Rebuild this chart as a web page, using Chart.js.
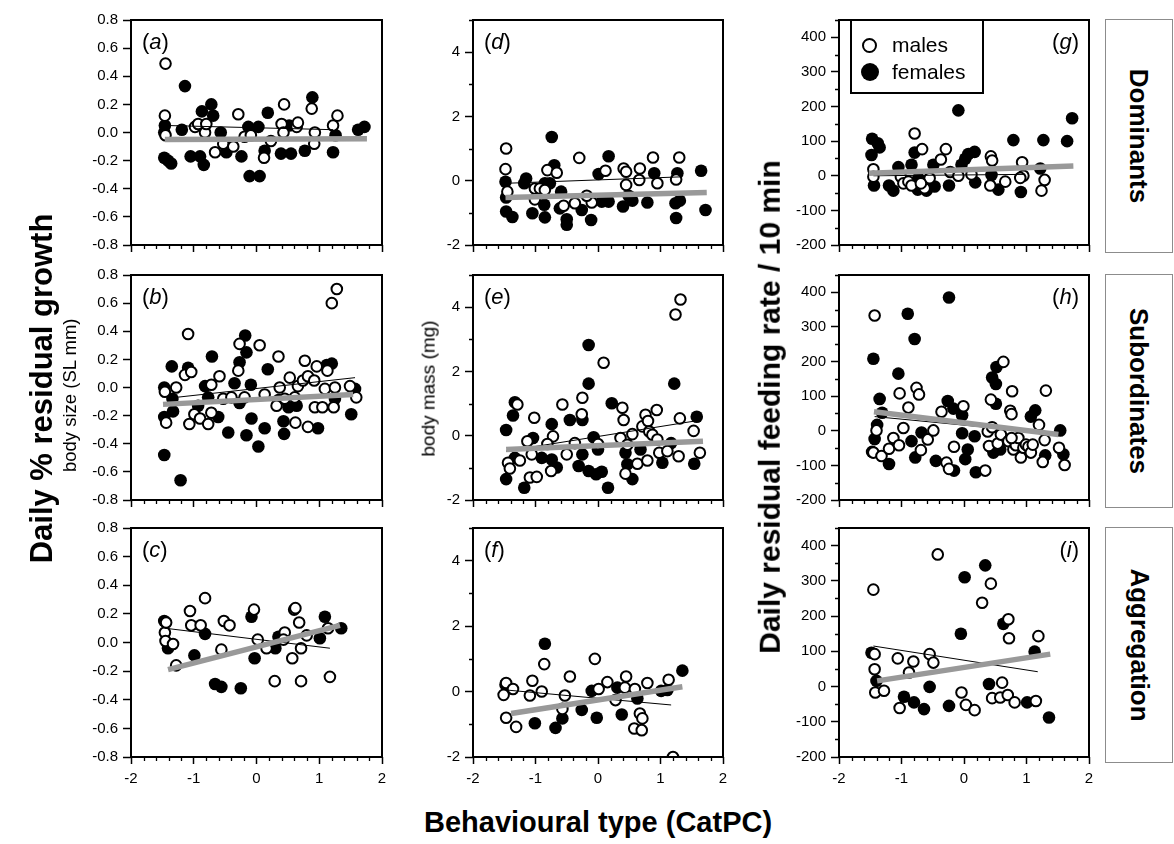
<!DOCTYPE html>
<html><head><meta charset="utf-8">
<script src="https://cdn.jsdelivr.net/npm/chart.js@4.4.1/dist/chart.umd.min.js"></script>
<style>
html,body{margin:0;padding:0;background:#fff;}
body{width:1174px;height:844px;position:relative;overflow:hidden;font-family:"Liberation Sans",Arial,sans-serif;color:#000;}
canvas{position:absolute;}
.t{position:absolute;white-space:nowrap;line-height:1;}
.strip{position:absolute;border:1.5px solid #8c8c8c;box-sizing:border-box;}
.legend{position:absolute;border:2px solid #000;box-sizing:border-box;background:#fff;}
.dot{position:absolute;border-radius:50%;box-sizing:border-box;}
</style></head><body>
<script>
// ---------- data ----------
const xTicks = [-2,-1,0,1,2];
const growthTicks = [-0.8,-0.6,-0.4,-0.2,0,0.2,0.4,0.6,0.8];
const massTicks = [-2,0,2,4];
const feedTicks = [-200,-100,0,100,200,300,400];
const panelLetters = ['a','b','c','d','e','f','g','h','i'];
const groupNames = ['Dominants','Subordinates','Aggregation'];
const seriesNames = ['males','females'];

// (a) Dominants, body size
const aMales = [[-1.45,0.49],[-1.46,0.12],[-1.45,-0.02],[-0.98,0.04],[-0.93,0.06],[-0.82,0.0],[-0.80,0.06],[-0.66,-0.14],[-0.53,-0.08],[-0.37,-0.10],[-0.29,0.13],[-0.19,-0.03],[-0.09,-0.02],[0.12,-0.18],[0.23,-0.06],[0.40,0.06],[0.44,0.20],[0.43,0.0],[0.64,0.04],[0.66,0.07],[0.88,0.17],[0.93,0.0],[0.92,-0.08],[1.22,0.05],[1.29,0.12]];
const aFemales = [[-1.46,0.05],[-1.47,0.0],[-1.47,-0.18],[-1.41,-0.20],[-1.36,-0.22],[-1.14,0.33],[-1.19,0.02],[-1.05,-0.17],[-0.90,-0.17],[-0.84,-0.23],[-0.87,0.15],[-0.72,0.20],[-0.69,0.12],[-0.57,0.0],[-0.48,-0.14],[-0.24,-0.17],[-0.13,0.04],[-0.11,-0.31],[0.05,-0.31],[0.03,0.04],[0.18,0.14],[0.13,-0.13],[0.39,-0.15],[0.55,-0.15],[0.52,0.05],[0.77,-0.13],[0.89,0.25],[1.22,-0.14],[1.26,-0.02],[1.62,0.02],[1.72,0.04]];
const aThinFit = [[-1.45,0.05],[1.22,0.02]];
const aGreyFit = [[-1.46,-0.05],[1.76,-0.045]];

// (b) Subordinates, body size
const bMales = [[1.28,0.70],[1.20,0.60],[-1.09,0.38],[-0.27,0.31],[-0.29,0.12],[0.05,0.30],[0.35,0.22],[0.77,0.19],[0.96,0.15],[1.13,0.12],[-1.46,-0.03],[-1.28,0.0],[-1.14,0.09],[-1.04,0.11],[-1.44,-0.25],[-1.07,-0.26],[-0.99,-0.19],[-0.90,-0.22],[-0.77,-0.26],[-0.72,-0.18],[-0.72,0.02],[-0.59,0.08],[-0.53,-0.08],[-0.40,-0.07],[-0.19,-0.07],[0.32,-0.13],[0.37,0.0],[0.53,0.07],[0.61,-0.07],[0.62,-0.25],[0.66,0.01],[0.74,0.05],[0.82,0.08],[0.92,0.05],[0.82,-0.28],[0.93,-0.14],[1.05,-0.14],[1.09,-0.01],[1.23,-0.14],[1.25,0.0],[1.49,0.01],[1.59,-0.07],[0.13,-0.05],[0.45,-0.08]];
const bFemales = [[-1.35,0.15],[-1.47,0.0],[-1.47,-0.21],[-1.33,-0.17],[-1.47,-0.48],[-1.21,-0.66],[-1.34,-0.08],[-1.09,0.14],[-0.93,-0.13],[-0.82,0.01],[-0.77,-0.07],[-0.71,0.22],[-0.61,-0.21],[-0.45,-0.32],[-0.35,0.03],[-0.27,0.18],[-0.18,0.37],[-0.16,0.25],[-0.27,-0.11],[-0.16,-0.34],[-0.08,-0.22],[-0.09,0.02],[0.03,-0.42],[0.13,-0.29],[0.18,0.13],[0.43,-0.24],[0.44,-0.33],[0.51,-0.14],[0.64,-0.13],[0.98,-0.29],[1.12,0.16],[1.20,0.17],[1.25,-0.08],[1.51,-0.19],[1.57,-0.01],[0.35,-0.09]];
const bThinFit = [[-1.28,-0.07],[1.57,0.07]];
const bGreyFit = [[-1.49,-0.12],[1.54,-0.05]];

// (c) Aggregation, body size
const cMales = [[-1.46,0.07],[-1.44,0.14],[-1.45,0.01],[-1.33,-0.01],[-1.28,-0.16],[-1.06,0.22],[-1.04,0.12],[-0.89,0.12],[-0.82,0.31],[-0.56,-0.05],[-0.52,0.15],[-0.43,0.12],[-0.04,0.23],[0.02,0.02],[0.16,-0.04],[0.29,-0.27],[0.45,0.07],[0.57,-0.11],[0.60,0.23],[0.62,0.24],[0.68,0.14],[0.71,-0.04],[0.71,-0.27],[0.80,0.05],[1.14,0.10],[1.17,-0.24],[0.43,0.02]];
const cFemales = [[-1.47,0.15],[-1.41,-0.04],[-0.82,0.06],[-0.99,-0.09],[-0.66,-0.29],[-0.56,-0.31],[-0.25,-0.32],[-0.08,0.18],[-0.03,-0.11],[0.30,-0.04],[0.35,0.04],[1.01,0.03],[1.09,0.18],[1.35,0.10]];
const cThinFit = [[-1.46,0.10],[1.17,-0.04]];
const cGreyFit = [[-1.41,-0.19],[1.33,0.12]];

// (d) Dominants, body mass
const dMales = [[-1.47,1.0],[-1.48,0.36],[-1.45,-0.34],[-1.01,-0.24],[-0.93,-0.24],[-0.85,-0.29],[-0.81,0.33],[-0.66,0.25],[-1.01,-0.58],[-0.55,-0.78],[-0.37,-0.70],[-0.30,0.71],[-0.10,-0.68],[0.12,0.31],[0.41,0.38],[0.45,0.28],[0.45,-0.13],[0.66,0.02],[0.67,0.38],[0.88,0.72],[0.95,-0.08],[1.30,0.72],[1.25,0.04],[-0.18,-0.47]];
const dFemales = [[-1.48,-0.03],[-1.47,-0.52],[-1.47,-0.96],[-1.37,-1.13],[-1.18,-0.08],[-1.15,0.07],[-1.05,-1.01],[-0.85,-1.14],[-0.86,-0.75],[-0.85,-0.08],[-0.77,-0.08],[-0.74,1.36],[-0.70,0.48],[-0.59,-0.34],[-0.61,-0.86],[-0.50,-1.20],[-0.50,-1.37],[-0.26,-0.91],[-0.11,-1.22],[0.01,0.21],[0.06,-0.65],[0.17,-0.65],[0.17,0.76],[0.40,-0.80],[0.49,-0.47],[0.55,-0.62],[0.79,-0.68],[0.90,0.23],[1.24,-0.70],[1.25,-1.16],[1.27,0.23],[1.31,-0.62],[1.65,0.31],[1.72,-0.91]];
const dThinFit = [[-1.47,-0.08],[1.33,0.12]];
const dGreyFit = [[-1.48,-0.52],[1.74,-0.37]];

// (e) Subordinates, body mass
const eMales = [[1.32,4.24],[1.24,3.77],[0.09,2.27],[-0.25,1.18],[-0.26,0.67],[-0.57,0.97],[-1.29,0.97],[-1.02,0.56],[-0.72,-0.02],[-1.13,-0.17],[-1.44,-0.84],[-1.41,-1.02],[-1.25,-0.77],[-1.06,-0.58],[-1.09,-1.30],[-0.98,-1.28],[-0.75,-1.10],[-0.50,-0.58],[-0.37,-0.23],[0.0,-0.26],[0.39,0.87],[0.41,0.49],[0.36,-0.07],[0.47,-0.28],[0.44,-1.18],[0.55,0.05],[0.63,-0.87],[0.71,0.29],[0.76,0.65],[0.80,0.46],[0.82,0.13],[0.87,0.03],[0.94,0.80],[0.95,-0.12],[0.98,-0.53],[1.11,-0.48],[0.79,-0.77],[1.29,-0.64],[1.31,0.54],[1.53,0.15],[1.63,-0.53],[-0.81,-0.26]];
const eFemales = [[-1.47,0.18],[-1.36,0.63],[-1.33,1.04],[-1.47,-1.35],[-1.18,-1.62],[-1.33,-0.69],[-1.04,-0.07],[-0.90,-0.69],[-0.74,0.36],[-0.74,-0.74],[-0.66,-0.99],[-0.45,0.49],[-0.25,0.49],[-0.15,2.82],[-0.15,1.62],[-0.25,-0.58],[-0.31,-0.94],[-0.15,-1.10],[-0.07,-0.05],[0.0,-0.43],[-0.03,-1.20],[0.06,-1.12],[0.16,-1.62],[0.22,1.01],[0.44,-0.53],[0.47,-0.89],[0.55,-1.35],[0.68,-0.43],[1.03,-0.84],[1.22,1.62],[1.17,-0.23],[1.54,-0.87],[1.58,0.59]];
const eThinFit = [[-1.47,-0.48],[1.56,0.46]];
const eGreyFit = [[-1.47,-0.43],[1.68,-0.17]];

// (f) Aggregation, body mass
const fMales = [[-1.47,0.26],[-1.51,-0.10],[-1.36,0.08],[-1.47,-0.80],[-1.31,-1.08],[-1.09,-0.12],[-1.05,0.33],[-0.90,0.0],[-0.86,0.84],[-0.53,-0.12],[-0.57,-0.53],[-0.45,0.46],[-0.05,1.0],[0.01,0.08],[0.15,0.29],[0.28,-0.26],[0.43,0.12],[0.45,0.46],[0.59,0.08],[0.67,-0.67],[0.71,-0.82],[0.58,-1.13],[0.70,-1.18],[0.79,0.26],[1.13,0.36],[1.20,-2.0]];
const fFemales = [[-1.48,0.21],[-0.85,1.46],[-1.01,-0.97],[-0.68,-1.11],[-0.57,-0.82],[-0.26,-0.56],[-0.10,0.02],[-0.02,-0.80],[0.31,0.12],[0.38,-0.70],[0.63,-0.21],[1.01,0.02],[1.11,0.05],[1.35,0.64]];
const fThinFit = [[-1.48,0.05],[1.17,-0.41]];
const fGreyFit = [[-1.39,-0.67],[1.35,0.15]];

// (g) Dominants, feeding rate
const gMales = [[-1.45,19],[-1.45,-3],[-1.01,-3],[-0.97,-22],[-0.89,-17],[-0.84,-28],[-0.79,122],[-0.67,77],[-0.63,-36],[-0.55,-7],[-0.37,47],[-0.29,77],[-0.22,11],[-0.09,0],[0.12,4],[0.43,56],[0.45,44],[0.42,-28],[0.66,-17],[0.93,39],[0.95,0],[0.90,-6],[1.24,-43],[1.29,-12],[-0.69,-22]];
const gFemales = [[-1.47,107],[-1.38,94],[-1.35,82],[-1.48,60],[-1.44,-28],[-1.20,-28],[-1.13,-43],[-1.05,25],[-0.84,32],[-0.79,67],[-0.73,-7],[-0.74,-40],[-0.60,-43],[-0.49,32],[-0.47,-31],[-0.24,-28],[-0.09,189],[0.02,49],[0.07,63],[0.17,69],[0.18,-19],[-0.04,32],[0.44,2],[0.55,-40],[0.79,103],[0.91,-47],[1.27,103],[1.22,21],[1.65,100],[1.73,166]];
const gThinFit = [[-1.45,0],[0.98,4]];
const gGreyFit = [[-1.52,7],[1.75,28]];

// (h) Subordinates, feeding rate
const hMales = [[-1.43,333],[-1.40,1],[-1.45,-63],[-1.32,-73],[-1.20,-52],[-1.13,-21],[-1.04,-42],[-1.03,108],[-0.97,8],[-0.89,67],[-0.76,124],[-0.72,105],[-0.69,-56],[-0.58,-25],[-0.49,1],[-0.36,55],[-0.28,-92],[-0.24,-110],[-0.16,-46],[-0.01,71],[0.34,-115],[0.38,-2],[0.40,-44],[0.43,90],[0.45,10],[0.54,-37],[0.59,-11],[0.63,199],[0.71,-30],[0.74,58],[0.76,48],[0.77,114],[0.79,-54],[0.83,-42],[0.87,-21],[0.91,-77],[0.95,-49],[0.99,-40],[1.03,-46],[1.07,-63],[1.10,-40],[1.20,17],[1.26,-90],[1.31,116],[1.29,-27],[1.52,-49],[1.61,-99],[0.76,-21]];
const hFemales = [[-1.45,208],[-1.47,-61],[-1.43,-24],[-1.35,92],[-1.39,17],[-1.31,52],[-1.20,-96],[-1.05,165],[-0.90,338],[-0.79,265],[-0.84,-30],[-0.78,-77],[-0.68,-5],[-0.45,-87],[-0.26,86],[-0.24,385],[-0.17,64],[-0.03,45],[-0.03,-7],[0.06,-54],[0.02,-82],[0.17,-16],[-0.16,-115],[0.19,-120],[0.45,154],[0.51,135],[0.52,184],[0.51,78],[0.47,-63],[0.58,-54],[1.07,41],[1.14,59],[1.30,-71],[1.54,1],[1.59,-68]];
const hThinFit = [[-1.43,41],[1.57,-11]];
const hGreyFit = [[-1.44,55],[1.51,-11]];

// (i) Aggregation, feeding rate
const iMales = [[-1.45,275],[-1.43,92],[-1.43,49],[-1.42,-17],[-1.28,-12],[-1.06,80],[-1.03,-61],[-0.88,40],[-0.81,71],[-0.55,92],[-0.49,68],[-0.42,375],[-0.04,-17],[0.03,-52],[0.17,-67],[0.29,238],[0.43,292],[0.45,-33],[0.58,-31],[0.61,11],[0.71,191],[0.72,137],[0.70,-24],[0.81,-45],[1.15,-41],[1.19,143]];
const iFemales = [[-1.48,96],[-1.40,16],[-0.96,-29],[-0.80,-45],[-0.64,-64],[-0.55,-1],[-0.24,-55],[-0.05,150],[0.01,310],[0.34,344],[0.40,7],[0.63,178],[1.01,-45],[1.13,99],[1.36,-88]];
const iThinFit = [[-1.45,115],[1.18,42]];
const iGreyFit = [[-1.39,16],[1.38,92]];

// ---------- layout ----------
const FONT = '"Liberation Sans", Arial, sans-serif';
Chart.defaults.font.family = FONT;
Chart.defaults.color = '#000';
const colLeft = [131, 473, 839];
const colRight = [382, 723, 1089];
const rowTop = [18, 273, 526];
const rowBottom = [247, 502, 757];
const Y_W = 80, PAD_T = 12, PAD_R = 14;

const panels = [
  {m:aMales,f:aFemales,thin:aThinFit,grey:aGreyFit},
  {m:bMales,f:bFemales,thin:bThinFit,grey:bGreyFit},
  {m:cMales,f:cFemales,thin:cThinFit,grey:cGreyFit},
  {m:dMales,f:dFemales,thin:dThinFit,grey:dGreyFit},
  {m:eMales,f:eFemales,thin:eThinFit,grey:eGreyFit},
  {m:fMales,f:fFemales,thin:fThinFit,grey:fGreyFit},
  {m:gMales,f:gFemales,thin:gThinFit,grey:gGreyFit},
  {m:hMales,f:hFemales,thin:hThinFit,grey:hGreyFit},
  {m:iMales,f:iFemales,thin:iThinFit,grey:iGreyFit}
];
const colY = [
  {min:-0.8,max:0.8,ticks:growthTicks,minor:null,dec:1},
  {min:-2,max:5,ticks:massTicks,minor:1,dec:0},
  {min:-200,max:450,ticks:feedTicks,minor:50,dec:0}
];

const framePlugin = {
  id:'frame',
  afterDraw(chart, args, opts){
    const {ctx, chartArea:a} = chart;
    const xs = chart.scales.x, ys = chart.scales.y;
    ctx.save();
    ctx.strokeStyle = '#000';
    ctx.lineWidth = 1.3;
    ctx.beginPath();
    for (let k = -10; k <= 10; k++) {
      if (k % 5 === 0) continue;
      const px = Math.round(xs.getPixelForValue(k/5)) + 0.5;
      ctx.moveTo(px, a.bottom); ctx.lineTo(px, a.bottom + 4);
    }
    if (opts.minor) {
      for (let v = ys.min; v <= ys.max + 1e-9; v += opts.minor) {
        const isMajor = opts.ticks.some(t => Math.abs(t - v) < 1e-9);
        if (isMajor) continue;
        const py = Math.round(ys.getPixelForValue(v)) + 0.5;
        ctx.moveTo(a.left, py); ctx.lineTo(a.left - 4, py);
      }
    }
    ctx.stroke();
    ctx.lineWidth = 2;
    ctx.strokeRect(a.left, a.top, a.right - a.left, a.bottom - a.top);
    ctx.restore();
  }
};

const pts = arr => arr.map(([x,y]) => ({x, y}));

panels.forEach((p, idx) => {
  const col = Math.floor(idx / 3), row = idx % 3;
  const yc = colY[col];
  const xH = row === 2 ? 42 : 12;
  const plotW = colRight[col] - colLeft[col];
  const plotH = rowBottom[row] - rowTop[row];
  const cv = document.createElement('canvas');
  const W = Y_W + plotW + PAD_R, H = PAD_T + plotH + xH;
  cv.width = W; cv.height = H;
  cv.style.left = (colLeft[col] - Y_W) + 'px';
  cv.style.top = (rowTop[row] - PAD_T) + 'px';
  cv.style.width = W + 'px'; cv.style.height = H + 'px';
  document.body.appendChild(cv);
  new Chart(cv, {
    type: 'scatter',
    data: { datasets: [
      {label:'grey fit', data: pts(p.grey), showLine:true, borderColor:'#999999', borderWidth:5.5, pointRadius:0, order:0, borderCapStyle:'butt'},
      {label:'thin fit', data: pts(p.thin), showLine:true, borderColor:'#000', borderWidth:1, pointRadius:0, order:1},
      {label:seriesNames[0], data: pts(p.m), pointRadius:5.3, pointBorderWidth:2, pointBackgroundColor:'#fff', pointBorderColor:'#000', order:2},
      {label:seriesNames[1], data: pts(p.f), pointRadius:6.3, pointBorderWidth:0, pointBackgroundColor:'#000', pointBorderColor:'#000', order:3}
    ]},
    options: {
      responsive:false, animation:false, devicePixelRatio:1,
      layout:{padding:{left:0, top:PAD_T, right:PAD_R, bottom:0}},
      plugins:{legend:{display:false}, tooltip:{enabled:false}, frame:{minor:yc.minor, ticks:yc.ticks}},
      events:[],
      scales:{
        x:{type:'linear', min:-2, max:2,
           afterBuildTicks: s => { s.ticks = xTicks.map(v => ({value:v})); },
           afterFit: s => { s.height = xH; },
           border:{display:false},
           grid:{drawOnChartArea:false, drawTicks:true, tickLength:7, tickColor:'#000', tickWidth:1.5},
           ticks:{display: row === 2, autoSkip:false, maxRotation:0, padding:6, font:{size:15}, color:'#000', callback: v => String(v)}},
        y:{type:'linear', min:yc.min, max:yc.max,
           afterBuildTicks: s => { s.ticks = yc.ticks.map(v => ({value:v})); },
           afterFit: s => { s.width = Y_W; },
           border:{display:false},
           grid:{drawOnChartArea:false, drawTicks:true, tickLength:8, tickColor:'#000', tickWidth:1.5},
           ticks:{autoSkip:false, padding:5, font:{size:15}, color:'#000', callback: v => Number(v).toFixed(yc.dec)}}
      }
    },
    plugins:[framePlugin]
  });
});

// ---------- HTML text ----------
function addText(html, css) {
  const d = document.createElement('div');
  d.className = 't';
  d.innerHTML = html;
  Object.assign(d.style, css);
  document.body.appendChild(d);
  return d;
}
function addRotated(text, cx, cy, deg, css) {
  const d = document.createElement('div');
  d.className = 't';
  d.textContent = text;
  Object.assign(d.style, css);
  document.body.appendChild(d);
  const w = d.offsetWidth, h = d.offsetHeight;
  d.style.left = (cx - w/2) + 'px';
  d.style.top = (cy - h/2) + 'px';
  d.style.transform = 'rotate(' + deg + 'deg)';
  return d;
}

// panel letters
panelLetters.forEach((L, idx) => {
  const col = Math.floor(idx / 3), row = idx % 3;
  const css = {fontSize:'22px', top:(rowTop[row] + 13) + 'px'};
  if (col < 2) { css.left = (colLeft[col] + 11) + 'px'; }
  else { css.left = (colRight[col] - 110) + 'px'; css.width = '100px'; css.textAlign = 'right'; }
  addText('(<i>' + L + '</i>)', css);
});

// axis titles
addRotated('Daily % residual growth', 42, 388, -90, {fontSize:'31px', fontWeight:'bold'});
addRotated('body size (SL mm)', 70, 395, -90, {fontSize:'18.5px'});
addRotated('body mass (mg)', 428, 388, -90, {fontSize:'19px'});
addRotated('Daily residual feeding rate / 10 min', 770, 407, -90, {fontSize:'30px', fontWeight:'bold'});
addRotated('Behavioural type (CatPC)', 598, 822, 0, {fontSize:'29px', fontWeight:'bold'});

// strips
groupNames.forEach((g, r) => {
  const top = rowTop[r] + 1, bottom = rowBottom[r] + 6;
  const s = document.createElement('div');
  s.className = 'strip';
  Object.assign(s.style, {left:'1105px', top: top + 'px', width:'68px', height:(bottom - top) + 'px'});
  document.body.appendChild(s);
  addRotated(g, 1105 + 34, (top + bottom) / 2, 90, {fontSize:'26px', fontWeight:'bold'});
});

// legend
const lg = document.createElement('div');
lg.className = 'legend';
Object.assign(lg.style, {left:'850px', top:'19px', width:'134px', height:'75px'});
document.body.appendChild(lg);
const d1 = document.createElement('div'); d1.className = 'dot';
Object.assign(d1.style, {left:'862px', top:'38px', width:'15px', height:'15px', border:'2.5px solid #000', background:'#fff'});
document.body.appendChild(d1);
const d2 = document.createElement('div'); d2.className = 'dot';
Object.assign(d2.style, {left:'861px', top:'63px', width:'18px', height:'18px', background:'#000'});
document.body.appendChild(d2);
addText(seriesNames[0], {left:'892px', top:'34px', fontSize:'21px'});
addText(seriesNames[1], {left:'892px', top:'61px', fontSize:'21px'});
</script>
</body></html>
